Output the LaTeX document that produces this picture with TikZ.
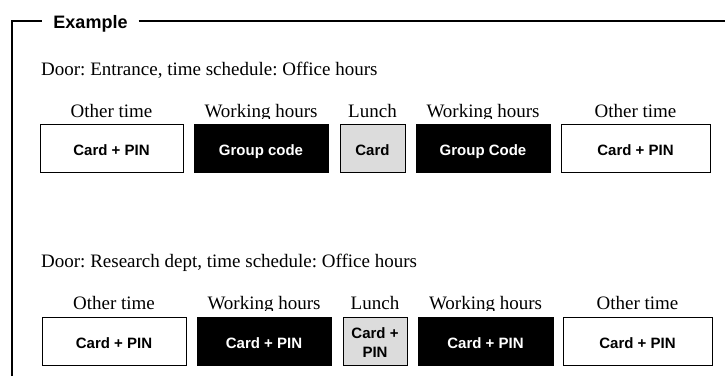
\documentclass[tikz,border=0pt]{standalone}
\usepackage{fontspec}
\setmainfont{Liberation Serif}
\setsansfont{Liberation Sans}
\definecolor{lunchgray}{HTML}{DCDCDC}
\frenchspacing
\begin{document}
\begin{tikzpicture}[x=1pt, y=-1pt,
    slot/.style={draw=black, line width=1pt, minimum height=48pt, inner sep=0pt, align=center,
      text height=19pt, text depth=3.3pt,
      font=\sffamily\bfseries\fontsize{15}{19}\selectfont},
    period/.style={anchor=base, inner sep=0pt, font=\fontsize{19}{22}\selectfont},
    doorline/.style={anchor=base west, inner sep=0pt, font=\fontsize{19}{22}\selectfont},
    frame/.style={line width=1.3pt}]
    \useasboundingbox (0,0) rectangle (725,376);

    % Frame with title
    \coordinate (corner) at (12,21);
    \coordinate (foot) at (12,376);
    \coordinate (rim) at (725,21);
    \node[anchor=base, inner xsep=11pt, font=\sffamily\bfseries\fontsize{18}{22}\selectfont] (title) at (90.5,28) {Example};
    \draw[frame] (foot) -- (corner) -- (corner -| title.west);
    \draw[frame] (corner -| title.east) -- (rim);

    % Door: Entrance
    \node[doorline] (door1) at (41,75) {Door: Entrance, time schedule: Office hours};
    \foreach \x/\w/\bg/\fg/\txt/\lbl [count=\i] in {
        111.5/143/white/black/Card + PIN/Other time,
        261/134/black/white/Group code/Working hours,
        372.5/65/lunchgray/black/Card/Lunch,
        483/134/black/white/Group Code/Working hours,
        635.5/149/white/black/Card + PIN/Other time} {
        \begin{scope}
            \clip (\x-90,90) rectangle (\x+90,118);
            \node[period] (el\i) at (\x,117) {\lbl};
        \end{scope}
        \node[slot, minimum width=\w pt, fill=\bg, text=\fg] (e\i) at (\x,148) {\txt};
    }

    % Door: Research dept
    \node[doorline] (door2) at (41,267) {Door: Research dept, time schedule: Office hours};
    \foreach \x/\w/\bg/\fg/\tall/\txt/\lbl [count=\i] in {
        114/144/white/black/19/Card + PIN/Other time,
        264/134/black/white/19/Card + PIN/Working hours,
        375/64/lunchgray/black/36/{Card +\\PIN}/Lunch,
        485.5/135/black/white/19/Card + PIN/Working hours,
        637.5/149/white/black/19/Card + PIN/Other time} {
        \begin{scope}
            \clip (\x-90,282) rectangle (\x+90,310);
            \node[period] (rl\i) at (\x,309) {\lbl};
        \end{scope}
        \node[slot, minimum width=\w pt, fill=\bg, text=\fg, text height=\tall pt] (r\i) at (\x,341) {\txt};
    }
\end{tikzpicture}
\end{document}
